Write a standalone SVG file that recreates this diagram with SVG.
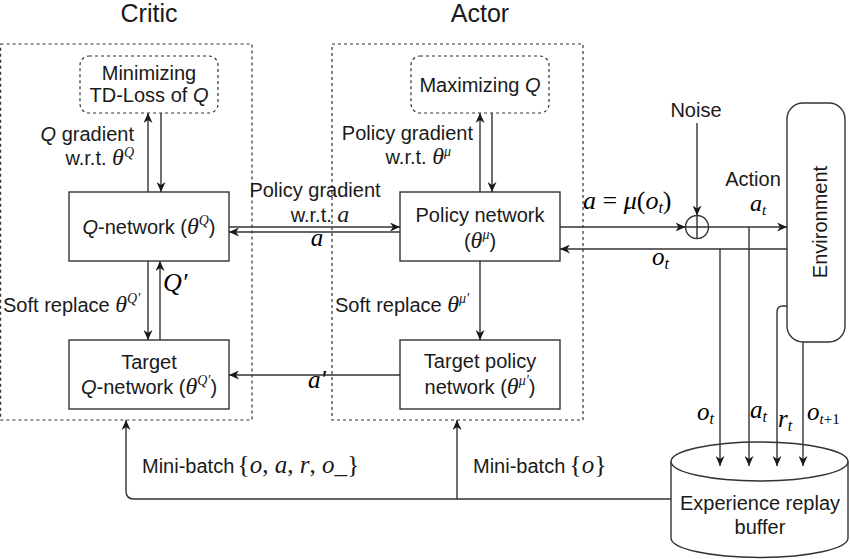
<svg xmlns="http://www.w3.org/2000/svg" width="850" height="559" viewBox="0 0 850 559">
<style>
.t{font-family:"Liberation Sans",Arial,sans-serif;font-size:20px;fill:#1a1a1a}
.h{font-family:"Liberation Sans",Arial,sans-serif;font-size:25px;fill:#1a1a1a}
.m{font-family:"Liberation Serif","Times New Roman",serif;font-style:italic}
.u{font-family:"Liberation Serif","Times New Roman",serif;font-style:normal}
.i{font-style:italic}
.box{fill:#fff;stroke:#333;stroke-width:1.4}
.dash{fill:none;stroke:#333;stroke-width:1.2;stroke-dasharray:3 3}
.ln{fill:none;stroke:#333;stroke-width:1.4}
.arr{fill:none;stroke:#333;stroke-width:1.4;marker-end:url(#ah)}
</style>
<defs>
<marker id="ah" markerUnits="userSpaceOnUse" markerWidth="11" markerHeight="9" refX="10" refY="4.5" orient="auto">
<path d="M0,0 L10,4.5 L0,9 L3,4.5 Z" fill="#1a1a1a"/>
</marker>
</defs>
<rect width="850" height="559" fill="#fff"/>

<text class="h" x="149" y="22" text-anchor="middle">Critic</text>
<text class="h" x="480" y="22" text-anchor="middle">Actor</text>

<g id="critic-container"><rect class="dash" x="0.6" y="44" width="251.4" height="376"/></g>
<g id="actor-container"><rect class="dash" x="332" y="44" width="251" height="376"/></g>

<g id="minimizing">
<rect class="dash" x="80" y="56" width="138" height="57" rx="9"/>
<text class="t" x="149" y="80" text-anchor="middle">Minimizing</text>
<text class="t" x="149" y="102" text-anchor="middle">TD-Loss of <tspan class="i">Q</tspan></text>
</g>
<g id="maximizing">
<rect class="dash" x="411" y="56" width="138" height="57" rx="9"/>
<text class="t" x="480" y="92" text-anchor="middle">Maximizing <tspan class="i">Q</tspan></text>
</g>
<g id="q-network">
<rect class="box" x="69" y="192" width="160" height="69"/>
<text class="t" x="149" y="234" text-anchor="middle"><tspan class="i">Q</tspan>-network (<tspan class="m" font-size="24">θ</tspan><tspan class="m" font-size="14" dy="-9">Q</tspan><tspan dy="9">)</tspan></text>
</g>
<g id="target-q-network">
<rect class="box" x="69" y="340" width="160" height="69"/>
<text class="t" x="149" y="369" text-anchor="middle">Target</text>
<text class="t" x="149" y="394" text-anchor="middle"><tspan class="i">Q</tspan>-network (<tspan class="m" font-size="24">θ</tspan><tspan class="m" font-size="14" dy="-9">Q′</tspan><tspan dy="9">)</tspan></text>
</g>
<g id="policy-network">
<rect class="box" x="400" y="192" width="160" height="69"/>
<text class="t" x="480" y="222" text-anchor="middle">Policy network</text>
<text class="t" x="480" y="248" text-anchor="middle">(<tspan class="m" font-size="24">θ</tspan><tspan class="m" font-size="14" dy="-9">μ</tspan><tspan dy="9">)</tspan></text>
</g>
<g id="target-policy-network">
<rect class="box" x="400" y="340" width="160" height="69"/>
<text class="t" x="480" y="368" text-anchor="middle">Target policy</text>
<text class="t" x="480" y="394" text-anchor="middle">network (<tspan class="m" font-size="24">θ</tspan><tspan class="m" font-size="14" dy="-9">μ′</tspan><tspan dy="9">)</tspan></text>
</g>
<g id="environment">
<rect class="box" x="787" y="103" width="58" height="239" rx="16"/>
<text class="t" transform="translate(827,222) rotate(-90)" text-anchor="middle">Environment</text>
</g>
<g id="replay-buffer">
<path class="box" d="M671,461.5 A88.5,19.5 0 0 1 848,461.5 V538 A88.5,19.5 0 0 1 671,538 Z"/>
<path class="ln" d="M671,461.5 A88.5,19.5 0 0 0 848,461.5"/>
<text class="t" x="760" y="510" text-anchor="middle">Experience replay</text>
<text class="t" x="760" y="534" text-anchor="middle">buffer</text>
</g>
<g id="noise-sum">
<circle class="box" cx="697" cy="227" r="11.5"/>
<path class="ln" d="M685.5,227 H708.5 M697,215.5 V238.5"/>
<text class="t" x="696" y="117" text-anchor="middle">Noise</text>
</g>

<g id="connectors">
<line class="arr" x1="148" y1="192" x2="148" y2="113"/>
<line class="arr" x1="161" y1="113" x2="161" y2="192"/>
<line class="arr" x1="148" y1="261" x2="148" y2="340"/>
<line class="arr" x1="160" y1="340" x2="160" y2="261"/>
<line class="arr" x1="480" y1="192" x2="480" y2="113"/>
<line class="arr" x1="492" y1="113" x2="492" y2="192"/>
<line class="arr" x1="480" y1="261" x2="480" y2="340"/>
<line class="arr" x1="229" y1="227" x2="400" y2="227"/>
<line class="arr" x1="400" y1="232" x2="229" y2="232"/>
<line class="arr" x1="400" y1="375" x2="229" y2="375"/>
<line class="arr" x1="560" y1="227" x2="685.5" y2="227"/>
<line class="arr" x1="697" y1="123" x2="697" y2="215.5"/>
<line class="arr" x1="708.5" y1="227" x2="787" y2="227"/>
<line class="arr" x1="787" y1="249" x2="560" y2="249"/>
<line class="arr" x1="720" y1="249" x2="720" y2="466"/>
<line class="arr" x1="749" y1="227" x2="749" y2="466"/>
<path class="arr" d="M787,306 H783 Q777,306 777,312 V466"/>
<line class="arr" x1="803" y1="342" x2="803" y2="466"/>
<path class="arr" d="M671,499 H134 Q126,499 126,491 V420"/>
<line class="arr" x1="457" y1="499" x2="457" y2="420"/>
</g>

<g id="labels">
<text class="t" x="134" y="141" text-anchor="end"><tspan class="i">Q</tspan> gradient</text>
<text class="t" x="134" y="165" text-anchor="end">w.r.t. <tspan class="m" font-size="24">θ</tspan><tspan class="m" font-size="14" dy="-8">Q</tspan></text>
<text class="t" x="3" y="312">Soft replace <tspan class="m" font-size="24">θ</tspan><tspan class="m" font-size="14" dy="-9">Q′</tspan></text>
<text class="m" x="163" y="291" font-size="26">Q′</text>
<text class="t" x="473" y="140" text-anchor="end">Policy gradient</text>
<text class="t" x="451" y="164" text-anchor="end">w.r.t. <tspan class="m" font-size="24">θ</tspan><tspan class="m" font-size="14" dy="-8">μ</tspan></text>
<text class="t" x="335" y="312">Soft replace <tspan class="m" font-size="24">θ</tspan><tspan class="m" font-size="14" dy="-9">μ′</tspan></text>
<text class="t" x="315" y="197" text-anchor="middle">Policy gradient</text>
<text class="t" x="320" y="222" text-anchor="middle">w.r.t. <tspan class="m" font-size="24">a</tspan></text>
<text class="m" x="317" y="246" font-size="25" text-anchor="middle">a</text>
<text class="m" x="317" y="388" font-size="25" text-anchor="middle">a′</text>
<text class="m" x="583" y="209" font-size="26">a<tspan class="u"> = </tspan>μ<tspan class="u">(</tspan>o<tspan font-size="16" dy="4">t</tspan><tspan class="u" dy="-4">)</tspan></text>
<text class="t" x="753" y="186" text-anchor="middle">Action</text>
<text class="m" x="750" y="211" font-size="24">a<tspan font-size="15" dy="4">t</tspan></text>
<text class="m" x="652" y="265" font-size="25">o<tspan font-size="16" dy="4">t</tspan></text>
<text class="m" x="697" y="420" font-size="25">o<tspan font-size="16" dy="4">t</tspan></text>
<text class="m" x="750" y="418" font-size="25">a<tspan font-size="16" dy="4">t</tspan></text>
<text class="m" x="778" y="427" font-size="25">r<tspan font-size="16" dy="4">t</tspan></text>
<text class="m" x="807" y="420" font-size="25">o<tspan font-size="15" dy="4">t</tspan><tspan class="u" font-size="15">+1</tspan></text>
<text class="t" x="142" y="473">Mini-batch<tspan class="u" font-size="26" dx="3">{</tspan><tspan class="m" font-size="25">o</tspan><tspan class="u" font-size="25">, </tspan><tspan class="m" font-size="25">a</tspan><tspan class="u" font-size="25">, </tspan><tspan class="m" font-size="25">r</tspan><tspan class="u" font-size="25">, </tspan><tspan class="m" font-size="25">o</tspan><tspan class="u" font-size="25">_</tspan><tspan class="u" font-size="26">}</tspan></text>
<text class="t" x="473" y="473">Mini-batch<tspan class="u" font-size="26" dx="4">{</tspan><tspan class="m" font-size="25">o</tspan><tspan class="u" font-size="26">}</tspan></text>
</g>
</svg>
